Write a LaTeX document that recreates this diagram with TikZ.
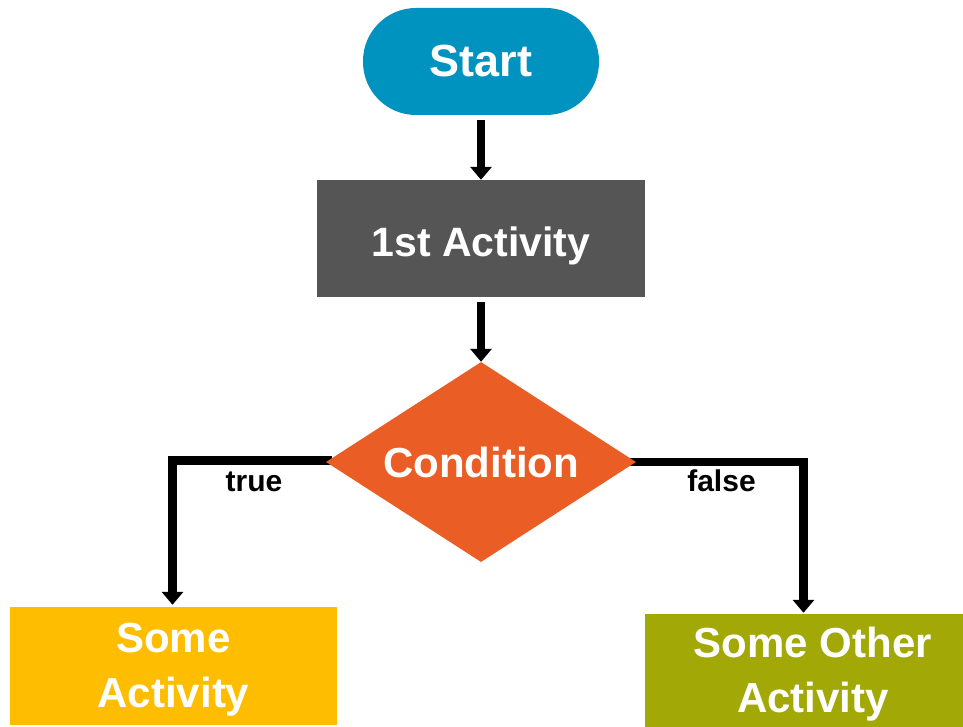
\documentclass[tikz,border=0pt]{standalone}
\usepackage{fontspec}
\setmainfont{Liberation Sans}
\usetikzlibrary{shapes.geometric,arrows.meta,calc}
\definecolor{startblue}{HTML}{0093BF}
\definecolor{actgray}{HTML}{555555}
\definecolor{condorange}{HTML}{EA5E25}
\definecolor{yesyellow}{HTML}{FFBD00}
\definecolor{noolive}{HTML}{A2A806}
\pgfdeclarelayer{bg}
\pgfsetlayers{bg,main}
\tikzset{
  boxtext/.style={text=white,font=\bfseries\fontsize{42}{55}\selectfont,align=center,inner sep=0pt},
  conn/.style={line width=8.5pt,line join=miter,-{Triangle[width=21pt,length=13pt]}},
  lbl/.style={font=\bfseries\fontsize{30}{32}\selectfont,inner sep=0pt,text=black,anchor=base}
}
\begin{document}
\begin{tikzpicture}[x=1pt,y=-1pt]
\useasboundingbox (0,0) rectangle (963,727);
\clip (0,0) rectangle (963,727);
\node[boxtext,fill=startblue,rounded corners=53pt,minimum width=236pt,minimum height=107pt,font=\bfseries\fontsize{45}{50}\selectfont] (start) at (481,61.5) {Start};
\node[boxtext,fill=actgray,minimum width=328pt,minimum height=117pt,font=\bfseries\fontsize{41}{50}\selectfont,text height=35pt,text depth=0pt] (act) at (481,238.5) {1st Activity};
\node[boxtext,fill=condorange,diamond,aspect=1.55,minimum width=310pt,minimum height=200pt] (cond) at (481,462) {Condition};
\node[fill=yesyellow,minimum width=327pt,minimum height=118pt,inner sep=0pt] (yes) at (173.5,666) {};
\node[boxtext] (yestext) at (173.5,669.6) {Some\\Activity};
\node[fill=noolive,minimum width=336pt,minimum height=126pt,inner sep=0pt] (no) at (813,677) {};
\node[boxtext] (notext) at (813,674.6) {Some Other\\Activity};
\begin{pgfonlayer}{bg}
\draw[conn,shorten <=5pt] (start.south) -- (act.north);
\draw[conn,shorten <=5pt] (act.south) -- (cond.north);
\draw[conn,shorten >=2pt] ([xshift=6pt,yshift=1.5pt]cond.west) -| ([xshift=-1pt]yes.north);
\draw[conn,shorten >=1pt] ([xshift=-6pt]cond.east) -| ([xshift=-9.5pt]no.north);
\end{pgfonlayer}
\node[lbl] (tlbl) at (254,491) {true};
\node[lbl] (flbl) at (721.5,491) {false};
\end{tikzpicture}
\end{document}
